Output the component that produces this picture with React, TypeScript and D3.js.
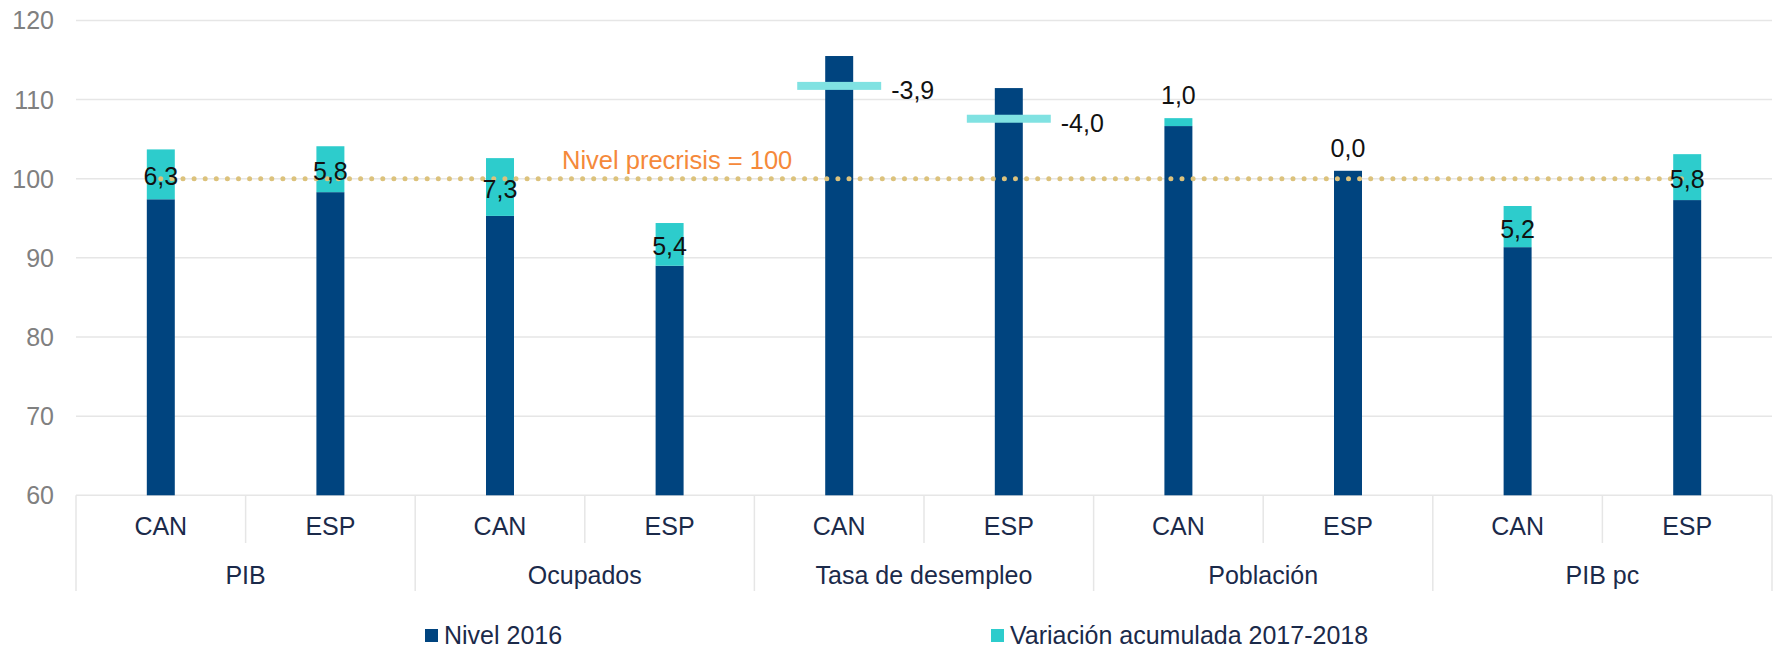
import React from "react";
import * as d3 from "d3";

const groups = ["PIB", "Ocupados", "Tasa de desempleo", "Población", "PIB pc"];
const regions = ["CAN", "ESP"];
const nivel2016 = [97.4, 98.3, 95.3, 89.0, 115.5, 111.45, 106.65, 101.0, 91.35, 97.3];
const variacion = [6.3, 5.8, 7.3, 5.4, -3.9, -4.0, 1.0, 0.0, 5.2, 5.8];
const yTicks = [60, 70, 80, 90, 100, 110, 120];
const refLevel = 100;
const refLabel = "Nivel precrisis = 100";
const legendLabels = ["Nivel 2016", "Variación acumulada 2017-2018"];

const W = 1773;
const H = 648;
const FONT = "'Liberation Sans', Arial, sans-serif";
const C_DARK = "#00447F";
const C_TEAL = "#2DCCCC";
const C_MARK = "#80E2E2";
const C_GRID = "#E6E6E6";
const C_TEXT = "#1B2A4A";

export default function App() {
  const keys = nivel2016.map((_, i) => String(i));
  const x = d3.scaleBand<string>().domain(keys).range([76, 1772]).paddingInner(0).paddingOuter(0);
  const y = d3.scaleLinear().domain([60, 120]).range([495.3, 20.4]);
  const bw = x.bandwidth() * 0.165;
  const fmt = (v: number) => d3.format(".1f")(v).replace(".", ",").replace("\u2212", "-");
  const cx = (i: number) => (x(String(i)) as number) + x.bandwidth() / 2;
  const yBase = y(60);

  return (
    <svg width={W} height={H} style={{ position: "absolute", left: 0, top: 0, background: "#fff" }} fontFamily={FONT}>
      {yTicks.map((t) => (
        <g key={t}>
          <line x1={76} x2={1772} y1={y(t)} y2={y(t)} stroke={C_GRID} strokeWidth={1.5} />
          <text x={54} y={y(t)} dy="0.36em" textAnchor="end" fontSize={25} fill="#808080">
            {t}
          </text>
        </g>
      ))}
      {d3.range(keys.length + 1).map((i) => {
        const xx = i < keys.length ? (x(String(i)) as number) : x.range()[1];
        const long = i % 2 === 0;
        return <line key={i} x1={xx} x2={xx} y1={yBase} y2={long ? 591 : 543} stroke={C_GRID} strokeWidth={1.5} />;
      })}
      {keys.map((k, i) => (
        <text key={k} x={cx(i)} y={535} textAnchor="middle" fontSize={25} fill={C_TEXT}>
          {regions[i % 2]}
        </text>
      ))}
      {groups.map((g, gi) => (
        <text key={g} x={(cx(gi * 2) + cx(gi * 2 + 1)) / 2} y={584} textAnchor="middle" fontSize={25} fill={C_TEXT}>
          {g}
        </text>
      ))}
      {keys.map((k, i) => {
        const v = nivel2016[i];
        const dv = variacion[i];
        return (
          <g key={k}>
            <rect x={cx(i) - bw / 2} y={y(v)} width={bw} height={yBase - y(v)} fill={C_DARK} />
            {dv > 0 && (
              <rect x={cx(i) - bw / 2} y={y(v + dv)} width={bw} height={y(v) - y(v + dv)} fill={C_TEAL} />
            )}
          </g>
        );
      })}
      {keys.map((k, i) =>
        variacion[i] < 0 ? (
          <rect key={k} x={cx(i) - bw * 1.5} y={y(nivel2016[i] + variacion[i]) - 5} width={bw * 3} height={8} fill={C_MARK} />
        ) : null
      )}
      <line
        x1={cx(0)}
        x2={cx(keys.length - 1)}
        y1={y(refLevel)}
        y2={y(refLevel)}
        stroke="#DCC27C"
        strokeWidth={5}
        strokeLinecap="round"
        strokeDasharray="0 11.1"
      />
      <text x={562} y={168.5} fontSize={25.5} fill="#F5893A">
        {refLabel}
      </text>
      {keys.map((k, i) => {
        const v = nivel2016[i];
        const dv = variacion[i];
        if (dv < 0) {
          return (
            <text key={k} x={cx(i) + bw * 1.5 + 10} y={y(v + dv) + 3} dy="0.36em" fontSize={25} fill="#111">
              {fmt(dv)}
            </text>
          );
        }
        if (dv < 2) {
          return (
            <text key={k} x={cx(i)} y={y(v + dv) - 23} dy="0.36em" textAnchor="middle" fontSize={25} fill="#111">
              {fmt(dv)}
            </text>
          );
        }
        return (
          <text key={k} x={cx(i)} y={(y(v) + y(v + dv)) / 2 + 2} dy="0.36em" textAnchor="middle" fontSize={25} fill="#111">
            {fmt(dv)}
          </text>
        );
      })}
      <rect x={425} y={629} width={13} height={13} fill={C_DARK} />
      <text x={444} y={644} fontSize={25} fill={C_TEXT}>
        {legendLabels[0]}
      </text>
      <rect x={991} y={629} width={13} height={13} fill={C_TEAL} />
      <text x={1010} y={644} fontSize={25} fill={C_TEXT}>
        {legendLabels[1]}
      </text>
    </svg>
  );
}
